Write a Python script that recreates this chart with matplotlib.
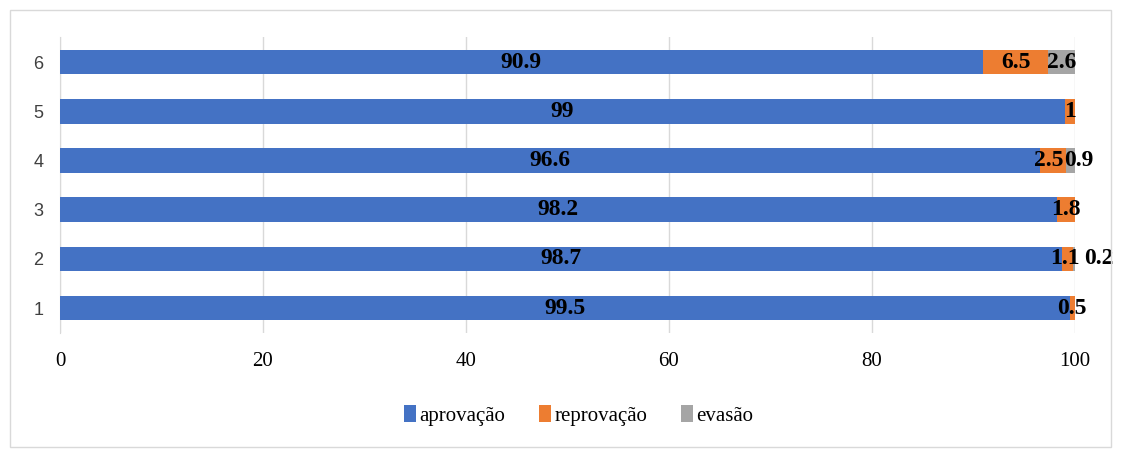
import matplotlib.pyplot as plt
from matplotlib.patches import Rectangle

categories = ['1', '2', '3', '4', '5', '6']
aprovacao = [99.5, 98.7, 98.2, 96.6, 99.0, 90.9]
reprovacao = [0.5, 1.1, 1.8, 2.5, 1.0, 6.5]
evasao = [0.0, 0.2, 0.0, 0.9, 0.0, 2.6]

series = [('aprovação', aprovacao, '#4472C4'),
          ('reprovação', reprovacao, '#ED7D31'),
          ('evasão', evasao, '#A5A5A5')]

# small label nudges (points) where Excel moved crowded labels aside
nudge = {('evasão', 1): 18, ('evasão', 3): 6, ('reprovação', 1): -2,
         ('reprovação', 3): -3}

serif = 'Liberation Serif'

fig = plt.figure(figsize=(11.22, 4.49), dpi=100)
fig.patches.append(Rectangle((0.009, 0.004), 0.981, 0.974, transform=fig.transFigure,
                             fill=False, edgecolor='#D9D9D9', linewidth=1))
ax = fig.add_axes([0.0535, 0.259, 0.9045, 0.6575])

ypos = list(range(len(categories)))
left = [0.0] * len(categories)
for name, vals, color in series:
    bars = ax.barh(ypos, vals, left=left, height=0.5, color=color, label=name, zorder=3)
    for i, (b, v) in enumerate(zip(bars, vals)):
        if v > 0:
            ax.annotate('%g' % v,
                        (b.get_x() + b.get_width() / 2, b.get_y() + b.get_height() / 2),
                        xytext=(nudge.get((name, i), 0), 0), textcoords='offset points',
                        ha='center', va='center', fontsize=17, fontweight='bold',
                        family=serif, color='black', zorder=4)
    left = [l + v for l, v in zip(left, vals)]

ax.set_xlim(0, 100)
ax.set_ylim(-0.5, len(categories) - 0.5)
ax.set_yticks(ypos)
ax.set_yticklabels(categories, fontsize=13, family='Liberation Sans', color='#404040')
ax.set_xticks([0, 20, 40, 60, 80, 100])
ax.set_xticklabels(['0', '20', '40', '60', '80', '100'], fontsize=15, family=serif)
ax.tick_params(axis='both', length=0)
ax.tick_params(axis='x', pad=14)
ax.tick_params(axis='y', pad=12)
ax.grid(axis='x', color='#D9D9D9', linewidth=1, zorder=0)
for s in ['top', 'right', 'bottom']:
    ax.spines[s].set_visible(False)
ax.spines['left'].set_color('#D9D9D9')

ax.legend(loc='center', bbox_to_anchor=(0.511, -0.28), ncol=3, frameon=False,
          prop={'family': serif, 'size': 15}, handlelength=0.6, handleheight=0.9,
          handletextpad=0.15, columnspacing=1.6)

fig.savefig('out.png', dpi=100)
